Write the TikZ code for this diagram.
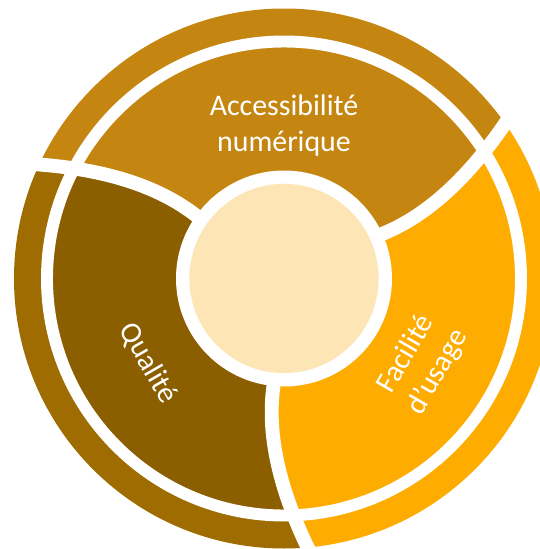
\documentclass[tikz,border=0pt]{standalone}
\usepackage{fontspec}
\setmainfont{Carlito}
\definecolor{accbrown}{HTML}{C58611}
\definecolor{qualdark}{HTML}{8B5E00}
\definecolor{qualouter}{HTML}{9E6C00}
\definecolor{facorange}{HTML}{FFAC00}
\definecolor{centrelight}{HTML}{FEE5B5}
\tikzset{
  segpath/.style={insert path={
    ({144.6+#1}:102) .. controls ({143.1+#1}:152) and ({148.3+#1}:208.7) .. ({155.5+#1}:276)
    arc[start angle={155.5+#1}, end angle={35.5+#1}, radius=276]
    .. controls ({28.3+#1}:208.7) and ({23.1+#1}:152) .. ({24.6+#1}:102)
    arc[start angle={24.6+#1}, end angle={144.6+#1}, radius=102] -- cycle}},
  gapline/.style={white, line width=7.9pt},
  ringgap/.style={white, line width=6.8pt},
  labeltext/.style={text=white, font=\fontsize{17}{20.8}\selectfont}
}
\begin{document}
\begin{tikzpicture}[x=0.02cm,y=0.02cm]
\useasboundingbox (-284,-270.5) rectangle (255,278.5);

% coloured segments, outer ring and middle ring
\begin{scope}
  \clip (0,0) circle (270);
  \foreach \o/\cmid/\cout in {0/accbrown/accbrown, 120/qualdark/qualouter, 240/facorange/facorange} {
    \fill[\cout, segpath=\o];
    \begin{scope}
      \clip (0,0) circle (237);
      \fill[\cmid, segpath=\o];
    \end{scope}
  }
\end{scope}

% white cuts
\foreach \o in {0,120,240}
  \draw[gapline] ({144.6+\o}:102) .. controls ({143.1+\o}:152) and ({148.3+\o}:208.7) .. ({155.5+\o}:276);
\draw[ringgap] (0,0) circle (237);

% centre
\fill[white] (0,0) circle (108);
\fill[centrelight] (0,0) circle (94.6);

\node[labeltext, align=center] (acc) at (0,153) {Accessibilité\\numérique};
\node[labeltext, rotate=-60] (qual) at (212:160) {Qualité};
\node[labeltext, align=center, rotate=60] (fac) at (-31.5:162) {Facilité\\d’usage};
\end{tikzpicture}
\end{document}
